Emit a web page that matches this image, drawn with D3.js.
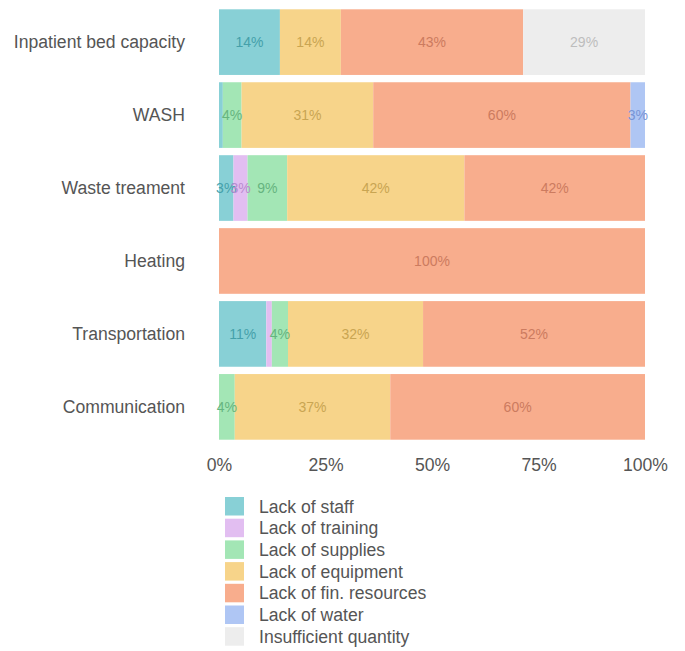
<!DOCTYPE html>
<html>
<head>
<script src="https://cdn.jsdelivr.net/npm/d3@7"></script>
<style>
body { margin: 0; background: #fff; font-family: "Liberation Sans", Arial, sans-serif; }
</style>
</head>
<body>
<script>
// categories (rows, top to bottom)
var categories = ["Inpatient bed capacity", "WASH", "Waste treament", "Heating", "Transportation", "Communication"];
var seriesNames = ["Lack of staff", "Lack of training", "Lack of supplies", "Lack of equipment",
                   "Lack of fin. resources", "Lack of water", "Insufficient quantity"];

// percent values per series, one per category
var staff        = [14.3, 0.9, 3.4, 0, 11.1, 0];
var training     = [0, 0, 3.3, 0, 1.3, 0];
var supplies     = [0, 4.4, 9.3, 0, 3.8, 3.7];
var equipment    = [14.3, 30.9, 41.6, 0, 31.7, 36.5];
var finResources = [42.8, 60.4, 42.4, 100, 52.1, 59.8];
var water        = [0, 3.4, 0, 0, 0, 0];
var insufficient = [28.6, 0, 0, 0, 0, 0];

var xTicks = [0, 25, 50, 75, 100];

var fills  = ["#88d0d6", "#e2bef1", "#a3e6b5", "#f7d48a", "#f8ad8d", "#afc6f4", "#ededed"];
var inks   = ["#45a0aa", "#b98ccf", "#66b47f", "#c9a552", "#cc7b5f", "#7895d6", "#bdbdbd"];

var allSeries = [staff, training, supplies, equipment, finResources, water, insufficient];

var width = 685, height = 651;
var fontSize = 17.6;
var svg = d3.select("body").append("svg")
    .attr("width", width)
    .attr("height", height);

var x = d3.scaleLinear().domain([0, 100]).range([219, 645]);
var y = d3.scaleBand().domain(categories).range([2, 447]).padding(0.1);

// build stacked rows
var rows = categories.map(function(c, i) {
    var row = { cat: c };
    seriesNames.forEach(function(s, j) { row[s] = allSeries[j][i]; });
    return row;
});
var stacked = d3.stack().keys(seriesNames)(rows);

var layers = svg.append("g").selectAll("g")
    .data(stacked)
    .enter().append("g")
    .attr("fill", function(d, i) { return fills[i]; });

layers.selectAll("rect")
    .data(function(d) { return d; })
    .enter().append("rect")
    .attr("x", function(d) { return x(d[0]); })
    .attr("y", function(d) { return y(d.data.cat); })
    .attr("width", function(d) { return x(d[1]) - x(d[0]); })
    .attr("height", y.bandwidth());

// value labels
stacked.forEach(function(layer, i) {
    svg.append("g").selectAll("text")
        .data(layer.filter(function(d) { return d[1] - d[0] >= 2; }))
        .enter().append("text")
        .attr("x", function(d) { return x((d[0] + d[1]) / 2); })
        .attr("y", function(d) { return y(d.data.cat) + y.bandwidth() / 2; })
        .attr("dy", "0.35em")
        .attr("text-anchor", "middle")
        .attr("font-size", 14)
        .attr("fill", inks[i])
        .text(function(d) { return Math.round(d[1] - d[0]) + "%"; });
});

// y axis labels
svg.append("g").selectAll("text")
    .data(categories)
    .enter().append("text")
    .attr("x", 185)
    .attr("y", function(d) { return y(d) + y.bandwidth() / 2; })
    .attr("dy", "0.35em")
    .attr("text-anchor", "end")
    .attr("font-size", fontSize)
    .attr("fill", "#555")
    .text(function(d) { return d; });

// x axis
var xAxis = svg.append("g")
    .attr("transform", "translate(0,455)")
    .call(d3.axisBottom(x).tickValues(xTicks).tickSize(0).tickFormat(function(d) { return d + "%"; }));
xAxis.select(".domain").remove();
xAxis.selectAll("text")
    .attr("font-family", "Liberation Sans, Arial, sans-serif")
    .attr("font-size", fontSize)
    .attr("fill", "#555")
    .attr("dy", "0.71em");

// legend
var legend = svg.append("g").selectAll("g")
    .data(seriesNames)
    .enter().append("g")
    .attr("transform", function(d, i) { return "translate(225," + (497 + i * 21.7) + ")"; });
legend.append("rect")
    .attr("width", 19)
    .attr("height", 18.5)
    .attr("fill", function(d, i) { return fills[i]; });
legend.append("text")
    .attr("x", 34)
    .attr("y", 9.5)
    .attr("dy", "0.35em")
    .attr("font-size", fontSize)
    .attr("fill", "#555")
    .text(function(d) { return d; });
</script>
</body>
</html>
